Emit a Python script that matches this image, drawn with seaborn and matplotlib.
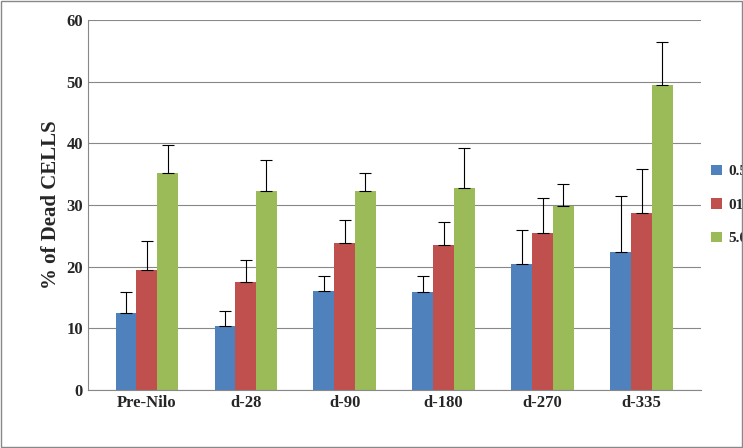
import seaborn as sns
import matplotlib.pyplot as plt
import pandas as pd

# time points and ratio series
groups = ['Pre-Nilo', 'd-28', 'd-90', 'd-180', 'd-270', 'd-335']
series = ['0.5:1', '01:01', '5.0:1']
vals_05 = [12.5, 10.4, 16.0, 15.8, 20.4, 22.4]
vals_11 = [19.4, 17.5, 23.9, 23.5, 25.4, 28.7]
vals_50 = [35.2, 32.3, 32.2, 32.8, 29.8, 49.4]
err_05 = [3.3, 2.4, 2.4, 2.6, 5.6, 9.0]
err_11 = [4.8, 3.5, 3.7, 3.7, 5.8, 7.2]
err_50 = [4.6, 5.0, 3.0, 6.4, 3.6, 7.0]

rows = []
for s, v, e in zip(series, [vals_05, vals_11, vals_50], [err_05, err_11, err_50]):
    for g, val, er in zip(groups, v, e):
        rows.append({'grp': g, 'ratio': s, 'pct': val, 'err': er})
df = pd.DataFrame(rows)

sns.set_style('white')
plt.rcParams['font.family'] = 'Liberation Serif'
plt.rcParams['font.weight'] = 'bold'

fig, ax = plt.subplots(figsize=(7.43, 4.48), dpi=100)
fig.subplots_adjust(left=0.118, right=0.943, top=0.955, bottom=0.13)
colors = ['#4F81BD', '#C0504D', '#9BBB59']
sns.barplot(data=df, x='grp', y='pct', hue='ratio', palette=colors,
            width=0.63, gap=0, saturation=1, errorbar=None, linewidth=0, ax=ax)

for cont, s in zip(ax.containers, series):
    sub = df[df.ratio == s]
    xs = [p.get_x() + p.get_width() / 2 for p in cont]
    ax.errorbar(xs, sub.pct, yerr=[[0] * len(xs), sub.err], fmt='none',
                ecolor='black', elinewidth=0.8, capsize=4, capthick=0.8)

ax.set_ylim(0, 60)
ax.set_yticks(range(0, 61, 10))
ax.yaxis.grid(True, color='#888888', linewidth=0.8)
ax.set_axisbelow(True)
ax.set_xlabel('')
ax.set_ylabel('% of Dead CELLS', fontsize=15, fontweight='bold')
ax.tick_params(axis='both', labelsize=12, length=0)
for lab in ax.get_xticklabels() + ax.get_yticklabels():
    lab.set_fontweight('bold')
for sp in ['top', 'right']:
    ax.spines[sp].set_visible(False)
for sp in ['left', 'bottom']:
    ax.spines[sp].set_color('#888888')

ax.legend(loc='center left', bbox_to_anchor=(1.0, 0.5), frameon=False,
          prop={'size': 11, 'weight': 'bold'}, handlelength=0.7,
          handleheight=0.7, labelspacing=1.3, handletextpad=0.4,
          borderaxespad=0.3)
fig.patches.append(plt.Rectangle((0.002, 0.002), 0.996, 0.996, transform=fig.transFigure,
                                 fill=False, edgecolor='#888888', linewidth=1))
fig.savefig('out.png', dpi=100)
